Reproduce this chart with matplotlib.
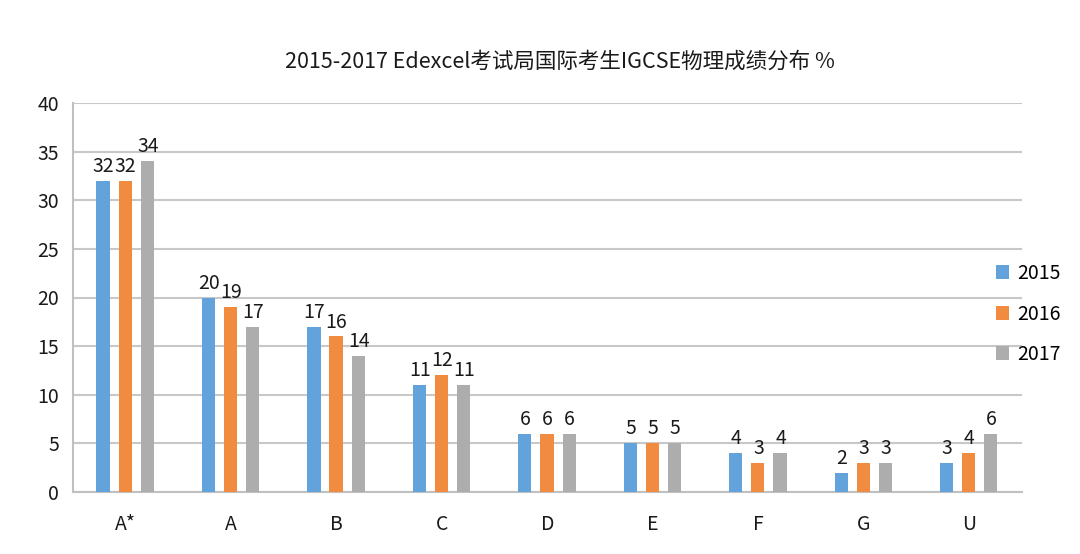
import matplotlib
matplotlib.use("Agg")
import matplotlib.pyplot as plt
import numpy as np

categories = ["A*", "A", "B", "C", "D", "E", "F", "G", "U"]
years = ["2015", "2016", "2017"]
v2015 = [32, 20, 17, 11, 6, 5, 4, 2, 3]
v2016 = [32, 19, 16, 12, 6, 5, 3, 3, 4]
v2017 = [34, 17, 14, 11, 6, 5, 4, 3, 6]
yticks = [0, 5, 10, 15, 20, 25, 30, 35, 40]
title = "2015-2017 Edexcel考试局国际考生IGCSE物理成绩分布 %"

colors = ["#62A3DC", "#F08B3F", "#ADADAD"]
fam = ["Noto Sans CJK SC", "DejaVu Sans"]
plt.rcParams["font.family"] = fam
plt.rcParams["font.weight"] = "medium"

fig = plt.figure(figsize=(10.8, 5.54), dpi=100)
ax = fig.add_axes([73/1080, 1-492/554, (1022-73)/1080, (492-103)/554])

x = np.arange(len(categories))
width = 0.125
offsets = [-0.21, 0.0, 0.21]
series = [v2015, v2016, v2017]
handles = []
for vals, off, c, yr in zip(series, offsets, colors, years):
    b = ax.bar(x + off - 0.005, vals, width, color=c, label=yr, zorder=3)
    handles.append(b)
    for xi, v in zip(x + off, vals):
        ax.text(xi, v + 0.4, str(v), ha="center", va="bottom", fontsize=14, color="#1a1a1a", zorder=4)

ax.set_xlim(-0.5, len(categories) - 0.5)
ax.set_ylim(0, 40)
ax.set_yticks(yticks)
ax.set_yticklabels([str(t) for t in yticks], fontsize=14, color="#1a1a1a")
ax.set_xticks(x)
ax.set_xticklabels(categories, fontsize=14, color="#1a1a1a")
ax.tick_params(axis="both", length=0)
ax.tick_params(axis="x", pad=16)
ax.tick_params(axis="y", pad=10)
ax.yaxis.grid(True, color="#C8C8C8", linewidth=1.5, zorder=0)
ax.set_axisbelow(True)
for s in ["top", "right"]:
    ax.spines[s].set_visible(False)
for s in ["left", "bottom"]:
    ax.spines[s].set_color("#C0C0C0")
    ax.spines[s].set_linewidth(1.5)

fig.text(560/1080, 1-62/554, title, ha="center", va="center", fontsize=15.5, color="#1a1a1a")

fig.legend(handles=handles, labels=years, loc="center left",
           bbox_to_anchor=(978/1080, 1-314/554), frameon=False,
           fontsize=14, handlelength=0.7, handleheight=0.7,
           handletextpad=0.4, labelspacing=1.0)

fig.savefig("out.png", dpi=100, facecolor="white")
